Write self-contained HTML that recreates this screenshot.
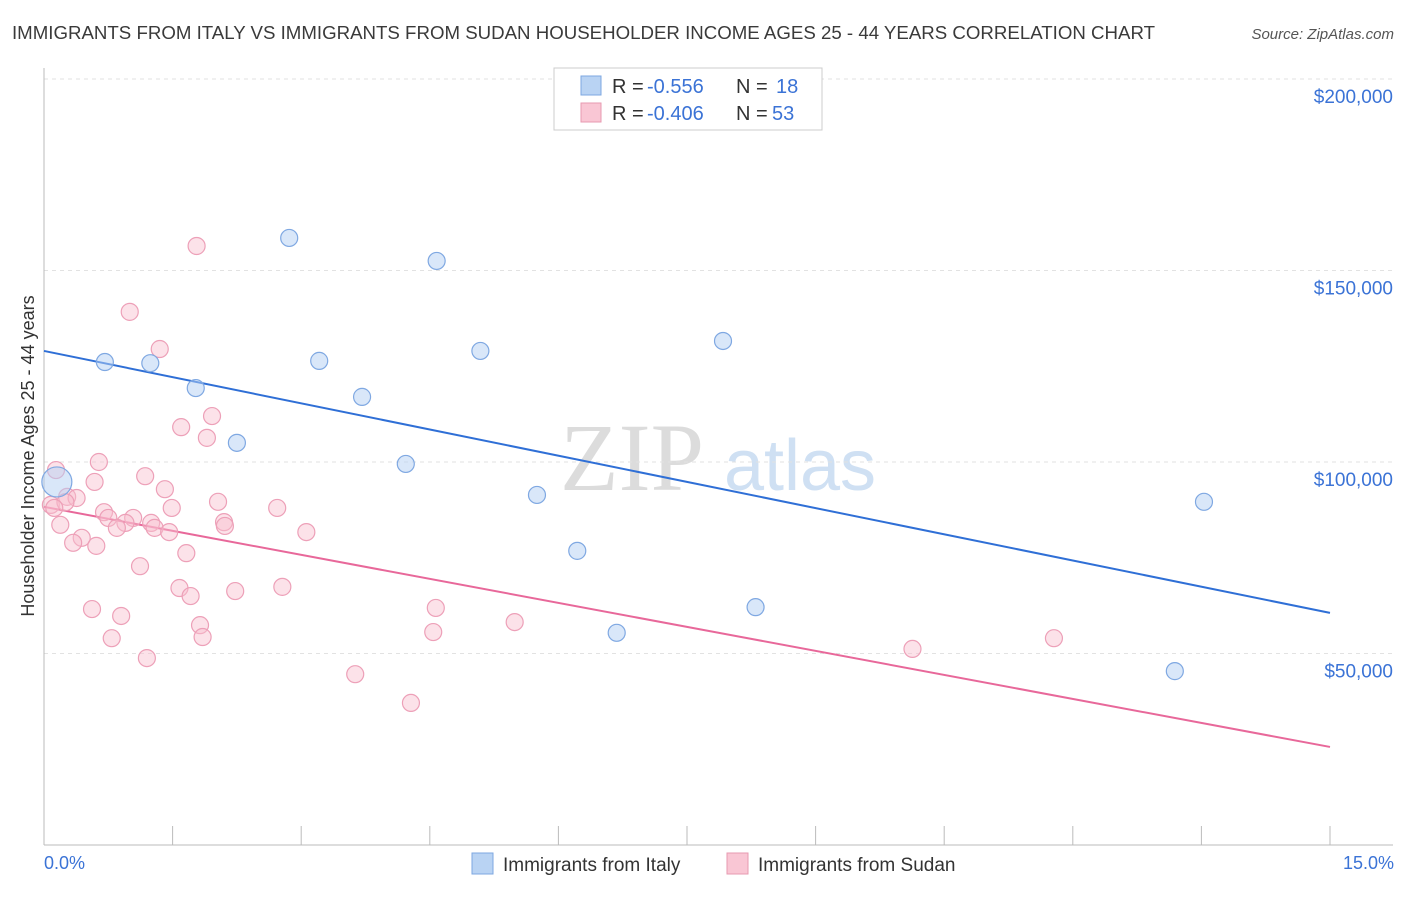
<!DOCTYPE html>
<html><head><meta charset="utf-8"><style>
body{margin:0;background:#fff;font-family:"Liberation Sans",sans-serif;}
svg text{font-family:"Liberation Sans",sans-serif;}
</style></head><body>
<svg id="chart" width="1406" height="892" viewBox="0 0 1406 892">
<text x="12" y="39" font-size="18" fill="#3a3a3a" textLength="1143" lengthAdjust="spacingAndGlyphs">IMMIGRANTS FROM ITALY VS IMMIGRANTS FROM SUDAN HOUSEHOLDER INCOME AGES 25 - 44 YEARS CORRELATION CHART</text>
<text x="1394" y="39" font-size="15" fill="#555" font-style="italic" text-anchor="end">Source: ZipAtlas.com</text>
<g>
<text x="632" y="490" font-size="96" fill="#dcdcdc" text-anchor="middle" style="font-family:'Liberation Serif',serif">ZIP</text>
<text x="800" y="490" font-size="72" fill="#cfe0f3" text-anchor="middle">atlas</text>
</g>
<g id="grid"></g><g id="axes"></g><g id="lines"></g><g id="pts"></g>
<text transform="translate(34,456) rotate(-90)" font-size="18" fill="#333" text-anchor="middle">Householder Income Ages 25 - 44 years</text>
<text x="44" y="869" font-size="18" fill="#3b73d6">0.0%</text>
<text x="1394" y="869" font-size="18" fill="#3b73d6" text-anchor="end">15.0%</text>
<g>
<rect x="554" y="68" width="268" height="62" fill="#fff" stroke="#ccc"/>
<rect x="581" y="76" width="20" height="19" fill="#b9d3f3" stroke="#7da7e0"/>
<rect x="581" y="103" width="20" height="19" fill="#f9c6d4" stroke="#e79ab0"/>
<g font-size="20" fill="#333">
<text x="612" y="93">R =</text><text x="647" y="93" fill="#3b73d6">-0.556</text><text x="736" y="93">N =</text><text x="776" y="93" fill="#3b73d6">18</text></g>
<g font-size="20" fill="#333">
<text x="612" y="120">R =</text><text x="647" y="120" fill="#3b73d6">-0.406</text><text x="736" y="120">N =</text><text x="772" y="120" fill="#3b73d6">53</text></g>
</g>
<g>
<rect x="472" y="853" width="21" height="21" fill="#b9d3f3" stroke="#7da7e0"/>
<text x="503" y="871" font-size="19" fill="#333">Immigrants from Italy</text>
<rect x="727" y="853" width="21" height="21" fill="#f9c6d4" stroke="#e79ab0"/>
<text x="758" y="871" font-size="19" fill="#333">Immigrants from Sudan</text>
</g>
</svg>
<script>
const yTicks=[50000,100000,150000,200000];
const yTickLabels=["$50,000","$100,000","$150,000","$200,000"];
const italyX=[2.86,4.58,0.71,1.24,3.21,5.09,7.92,1.77,3.71,2.25,4.22,5.75,6.22,6.68,8.30,13.53,13.19,0.15];
const italyY=[158500,152500,126100,125800,126400,129000,131600,119300,117000,105000,99500,91400,76800,55400,62100,89600,45400,94800];
const sudanX=[1.78,1.00,1.35,1.96,1.60,1.90,0.64,0.14,1.18,0.59,1.41,0.27,0.38,0.08,2.03,2.72,1.49,0.70,0.75,1.04,0.95,1.25,2.10,0.19,0.85,1.29,1.46,2.11,3.06,0.44,0.34,0.61,1.66,1.12,1.58,2.78,1.71,2.23,0.56,0.90,4.57,5.49,1.82,4.54,0.79,1.85,11.78,1.20,10.13,3.63,4.28,0.25,0.12];
const sudanY=[156400,139200,129500,112000,109100,106300,100000,97900,96300,94800,92900,90900,90600,88800,89600,88000,88000,86900,85400,85400,84100,84100,84300,83600,82800,82800,81700,83300,81700,80200,78900,78100,76200,72800,67100,67400,65000,66300,61600,59800,61900,58200,57400,55600,54000,54300,54000,48800,51200,44600,37100,89500,88000];
const italyTrend=[129000,60600];
const sudanTrend=[88300,25600];
const trendX=[0,15];
const NS="http://www.w3.org/2000/svg";
const X=v=>44+v/15*1286;
const Y=v=>845-v/50000*191.5;
function mk(tag,attrs,parent){const e=document.createElementNS(NS,tag);for(const k in attrs)e.setAttribute(k,attrs[k]);document.getElementById(parent).appendChild(e);return e;}
yTicks.forEach((t,i)=>{
 const g=mk('line',{x1:44,x2:1393,y1:Y(t),y2:Y(t),stroke:'#e2e2e2','stroke-dasharray':'4,4'},'grid');
 
 
 const l=mk('text',{x:1393,y:Y(t)+24,'font-size':19,fill:'#3b73d6','text-anchor':'end'},'axes');
 l.textContent=yTickLabels[i];
 
 
});
const ax=mk('line',{x1:44,x2:1393,y1:845,y2:845,stroke:'#bbb'},'axes');


const ay=mk('line',{x1:44,x2:44,y1:68,y2:845,stroke:'#bbb'},'axes');


for(let i=1;i<=10;i++){const t=mk('line',{x1:X(i*1.5),x2:X(i*1.5),y1:826,y2:845,stroke:'#bbb'},'axes');
 
 }
const lb=mk('line',{x1:X(trendX[0]),x2:X(trendX[1]),y1:Y(italyTrend[0]),y2:Y(italyTrend[1]),stroke:'#2f6fd6','stroke-width':2},'lines');


const lp=mk('line',{x1:X(trendX[0]),x2:X(trendX[1]),y1:Y(sudanTrend[0]),y2:Y(sudanTrend[1]),stroke:'#e8689a','stroke-width':2},'lines');


sudanX.forEach((x,i)=>{const c=mk('circle',{cx:X(x),cy:Y(sudanY[i]),r:8.5,fill:'rgba(248,190,207,0.45)',stroke:'#eda0b8','stroke-width':1.2},'pts');
 
 });
italyX.forEach((x,i)=>{const c=mk('circle',{cx:X(x),cy:Y(italyY[i]),r:i==17?15:8.5,fill:'rgba(180,208,243,0.5)',stroke:'#7fa8e2','stroke-width':1.2},'pts');
 
 });
</script>
</body></html>
